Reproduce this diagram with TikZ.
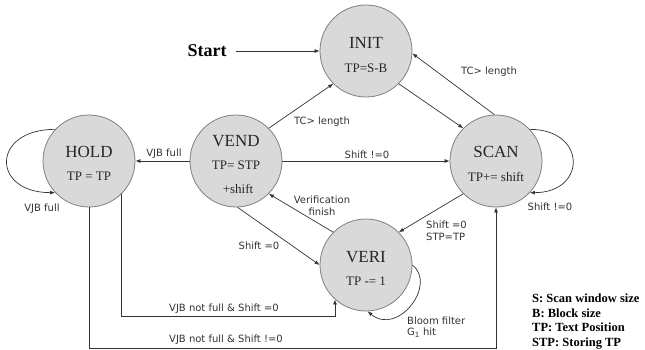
\documentclass[tikz,border=0pt]{standalone}
\usepackage{fontspec}
\setmainfont{Liberation Serif}
\newfontfamily\lblfont{DejaVu Sans}
\usetikzlibrary{arrows.meta}
\begin{document}
\begin{tikzpicture}[x=1pt,y=-1pt,
  state/.style={circle, draw=black!50, fill=black!15, line width=0.8pt, minimum size=92pt, inner sep=0pt},
  sname/.style={font=\fontsize{17}{17}\selectfont, inner sep=0pt, text=black!85},
  sexpr/.style={font=\fontsize{13}{13}\selectfont, inner sep=0pt, text=black!85},
  elab/.style={font=\lblfont\fontsize{10}{11.5}\selectfont, text=black!80, inner sep=0pt},
  arr/.style={draw=black!80, line width=0.7pt, -{Latex[length=5pt,width=4pt]}},
]
\useasboundingbox (0,0) rectangle (645,350);

\node[state] (init) at (366,51) {};
\node[state] (hold) at (89,161) {};
\node[state] (vend) at (236,161) {};
\node[state] (scan) at (496,161) {};
\node[state] (veri) at (366,265) {};

\node[sname] (initN) at (366,43) {INIT};
\node[sexpr] (initE) at (366,68) {TP=S-B};
\node[sname] (holdN) at (89,152) {HOLD};
\node[sexpr] (holdE) at (89,176) {TP = TP};
\node[sname] (vendN) at (236,141) {VEND};
\node[sexpr] (vendE) at (236,165) {TP= STP};
\node[sexpr] (vendF) at (238,189) {+shift};
\node[sname] (scanN) at (496,152) {SCAN};
\node[sexpr] (scanE) at (496,177) {TP+= shift};
\node[sname] (veriN) at (366,257) {VERI};
\node[sexpr] (veriE) at (366,281) {TP -= 1};

\node[font=\bfseries\fontsize{18}{18}\selectfont, inner sep=0pt] (start) at (207,51) {Start};
\draw[arr, shorten <=9pt] (start) -- (init);

\coordinate (lowA) at (0,316);
\coordinate (lowB) at (0,348);

\draw[arr] (vend.45) -- (init.225);
\draw[arr] (init.-45) -- (scan.135);
\draw[arr] (scan.92) -- (init.-3);
\draw[arr] (vend) -- (scan);
\draw[arr] (vend) -- (hold);
\draw[arr] (vend.-88) -- (veri.180);
\draw[arr] (veri.135) -- (vend.-45);
\draw[arr] (scan.225) -- (veri.45);
\draw[arr] (hold.137) .. controls +(-64,0) and +(-64,0) .. (hold.223);
\draw[arr] (scan.43) .. controls +(57,0) and +(57,0) .. (scan.-43);
\draw[arr] (veri.0) .. controls +(25,20) and +(30,25) .. (veri.-88);
\draw[arr] (hold.-45) -- (hold.-45 |- lowA) -| (veri.228);
\draw[arr] (hold.-90) -- (hold.-90 |- lowB) -| (scan.-90);

\node[elab] (l1) at (322,122) {TC> length};
\node[elab] (l2) at (489,72) {TC> length};
\node[elab] (l3) at (367,155) {Shift !=0};
\node[elab] (l4) at (164,154) {VJB full};
\node[elab] (l5) at (42,209) {VJB full};
\node[elab] (l6) at (550,207) {Shift !=0};
\node[elab] (l7) at (259,246) {Shift =0};
\node[elab, align=center] (l8) at (322,206) {Verification\\finish};
\node[elab, align=left, anchor=west] (l9) at (426,231) {Shift =0\\STP=TP};
\node[elab, align=left, anchor=west] (l10) at (407,327) {Bloom filter\\G\textsubscript{1} hit};
\node[elab] (l11) at (224,309) {VJB not full \& Shift =0};
\node[elab] (l12) at (226,340) {VJB not full \& Shift !=0};

\node[anchor=north west, align=left, font=\bfseries\fontsize{12.5}{14.5}\selectfont, inner sep=0pt] (legend) at (532,294) {S: Scan window size\\B: Block size\\TP: Text Position\\STP: Storing TP};
\end{tikzpicture}
\end{document}
